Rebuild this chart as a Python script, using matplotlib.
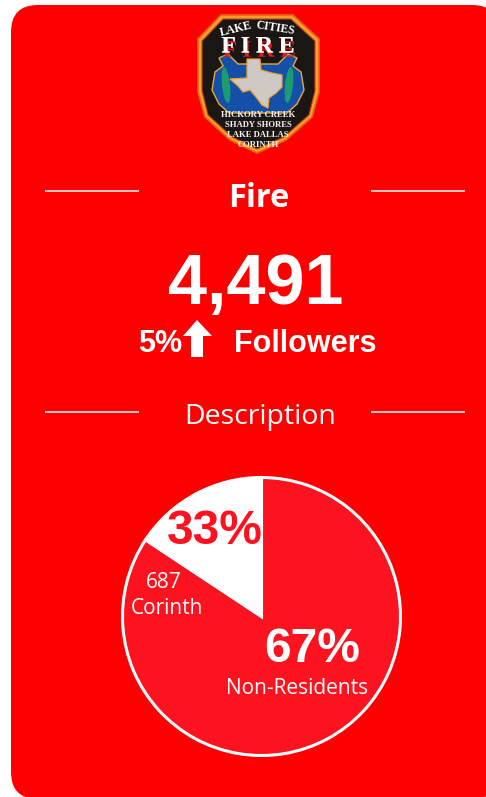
import matplotlib
matplotlib.use("Agg")
import matplotlib.pyplot as plt
import matplotlib.patheffects as pe
from matplotlib.patches import FancyBboxPatch, Polygon, Ellipse

W, H = 486, 797

# share of the circle each slice really covers in the picture
slice_names = ["Non-Residents", "Corinth"]
slice_shares = [84.3, 15.7]
slice_colors = ["#fd1220", "#ffffff"]

# printed labels
brand = "Fire"
followers = "4,491"
change = "5%"
followers_label = "Followers"
section = "Description"
pct_labels = ["67%", "33%"]
corinth_count = "687"

BG = "#ff0000"
SLICE = "#fd1220"
SANS = "Open Sans"
ARIAL = "Liberation Sans"
SERIF = "Liberation Serif"


def px_axes(fig, left, top, width, height):
    return fig.add_axes([left / W, 1 - (top + height) / H, width / W, height / H])


def draw_badge(ax):
    outline = [(221, 15), (293, 15), (319, 39), (319, 92), (312, 117), (286, 140),
               (257, 153), (230, 140), (205, 117), (198, 92), (198, 39)]
    ax.add_patch(Polygon(outline, fc="#f2a02a", ec="#e8641a", lw=1.2, zorder=3))
    inner = [(223, 19), (291, 19), (315, 41), (315, 91), (309, 115), (284, 137),
             (257, 149), (232, 137), (208, 115), (202, 91), (202, 41)]
    ax.add_patch(Polygon(inner, fc="#1a1614", ec="#c8401a", lw=0.8, zorder=4))

    cross = [(219, 58), (228, 54), (238, 64), (278, 64), (288, 54), (297, 58), (293, 66),
             (301, 72), (304, 90), (297, 104), (287, 113), (229, 113), (219, 104),
             (212, 90), (215, 72), (223, 66)]
    ax.add_patch(Polygon(cross, fc="#1450a8", ec="#e8a838", lw=1.0, zorder=5))
    ax.add_patch(Ellipse((226, 85), 8, 36, angle=-6, fc="#1c9a70", zorder=6))
    ax.add_patch(Ellipse((289, 85), 8, 36, angle=6, fc="#1c9a70", zorder=6))

    texas = [(247, 59), (260, 59), (261, 70), (272, 73), (282, 75), (282, 87), (276, 93),
             (269, 98), (268, 108), (262, 105), (256, 97), (250, 90), (243, 92), (238, 86),
             (230, 79), (247, 78)]
    ax.add_patch(Polygon(texas, fc="#cfc9c6", ec="#f0a030", lw=0.9, zorder=7))

    ax.text(236, 29, "LAKE", color="white", fontsize=8.4, family=SERIF, weight="bold",
            ha="center", va="center", rotation=14, zorder=9)
    ax.text(275, 28, "CITIES", color="white", fontsize=8.4, family=SERIF, weight="bold",
            ha="center", va="center", rotation=-9, zorder=9)
    ax.text(258, 47, "F I R E", color="white", fontsize=17, family=SERIF, weight="bold",
            ha="center", va="center", zorder=9,
            path_effects=[pe.withSimplePatchShadow(offset=(1, -3), shadow_rgbFace="#e01c20",
                                                   alpha=1.0), pe.Normal()])
    rows = [("HICKORY CREEK", 114.5), ("SHADY SHORES", 124.5), ("LAKE DALLAS", 134.5), ("CORINTH", 144.5)]
    for row, y in rows:
        ax.text(258, y, row, color="#f2f0ee", fontsize=6.2, family=SERIF, weight="bold",
                ha="center", va="center", zorder=11)


fig = plt.figure(figsize=(W / 100, H / 100), dpi=100, facecolor="white")

bg = fig.add_axes([0, 0, 1, 1])
bg.set_xlim(0, W)
bg.set_ylim(H, 0)
bg.set_axis_off()

card = FancyBboxPatch((38, 32), 434, 740, boxstyle="round,pad=27,rounding_size=27",
                      fc=BG, ec="none")
bg.add_patch(card)

draw_badge(bg)

for y in [191, 412]:
    for x0, x1 in [(45, 139), (371, 465)]:
        bg.plot([x0, x1], [y, y], color="white", lw=1.1, solid_capstyle="butt")

bg.text(259, 198, brand, color="white", fontsize=23.5, family=SANS, weight="bold",
        ha="center", va="center")
bg.text(256, 303.5, followers, color="white", fontsize=50.5, family=ARIAL, weight="bold",
        ha="center", va="baseline")
bg.text(138, 352, change, color="white", fontsize=22, family=ARIAL, weight="bold",
        ha="left", va="baseline")
bg.text(234, 352, followers_label, color="white", fontsize=22, family=ARIAL, weight="bold",
        ha="left", va="baseline")
bg.add_patch(Polygon([(197, 320), (212, 336), (203, 336), (203, 357), (191, 357),
                      (191, 336), (183, 336)], fc="white", ec="none"))
bg.text(260, 417, section, color="white", fontsize=20.5, family=SANS,
        ha="center", va="center")

pie_ax = px_axes(fig, 122.5, 477.5, 278, 278)
pie_ax.pie(slice_shares, colors=slice_colors, startangle=90, counterclock=False, radius=1.0,
           wedgeprops={"edgecolor": "white", "linewidth": 2.2})
pie_ax.set_xlim(-1, 1)
pie_ax.set_ylim(-1, 1)
pie_ax.patch.set_alpha(0)

# labels on top of the pie
top = fig.add_axes([0, 0, 1, 1])
top.set_xlim(0, W)
top.set_ylim(H, 0)
top.set_axis_off()
top.patch.set_alpha(0)

top.text(215, 544.5, pct_labels[1], color=SLICE, fontsize=34.5, family=ARIAL, weight="bold",
         ha="center", va="baseline")
top.text(312.5, 661.5, pct_labels[0], color="white", fontsize=34.5, family=ARIAL, weight="bold",
         ha="center", va="baseline")
top.text(297, 689, slice_names[0], color="white", fontsize=15, family=SANS,
         ha="center", va="center")
top.text(164, 583, corinth_count, color="white", fontsize=15, family=SANS,
         ha="center", va="center")
top.text(167, 609, slice_names[1], color="white", fontsize=15, family=SANS,
         ha="center", va="center")

fig.savefig("out.png", dpi=100)
